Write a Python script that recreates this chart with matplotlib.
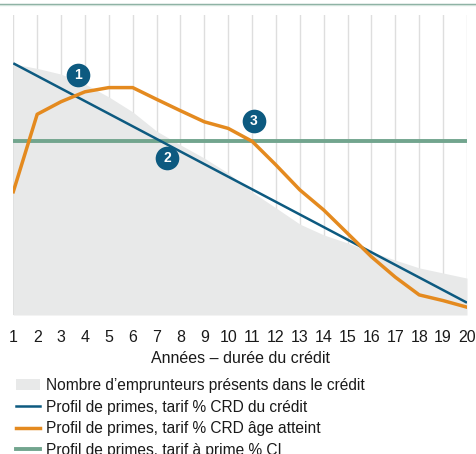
import matplotlib
matplotlib.use("Agg")
import matplotlib.pyplot as plt
from matplotlib.lines import Line2D
from matplotlib.patches import Patch

plt.rcParams['font.family'] = ['Liberation Sans', 'DejaVu Sans']

# durée du crédit (années)
annees = list(range(1, 21))

# nombre d'emprunteurs encore présents (échelle relative)
emprunteurs = [83.7, 82.2, 80.3, 77.0, 72.7, 67.7, 61.3, 56.7, 52.3, 47.3,
               41.0, 35.7, 30.3, 26.7, 24.0, 21.0, 18.3, 15.7, 14.0, 12.3]

# profil tarif % CRD du crédit : droite entre première et dernière année
crd_x = [1, 20]
crd_y = [83.9, 4.1]

# profil tarif % CRD âge atteint
crd_age = [41.1, 66.9, 71.1, 74.4, 75.8, 75.8, 71.9, 68.1, 64.4, 62.2,
           57.9, 50.0, 41.7, 35.0, 27.2, 19.4, 12.6, 6.7, 4.8, 2.6]

# profil tarif à prime % CI (constant)
prime_ci = 57.9

# repères numérotés
reperes_x = [3.71, 7.44, 11.08]
reperes_y = [80.0, 52.3, 64.7]
reperes_txt = ['1', '2', '3']

bleu = '#0d5a80'
orange = '#e48a1f'
vert = '#72a58e'
gris = '#e8e9e9'
texte = '#1a1a1a'

fig = plt.figure(figsize=(4.76, 4.54), dpi=100)
ax = fig.add_axes([13.3 / 476, 139 / 454, 453.7 / 476, 300 / 454])

for x in annees:
    ax.axvline(x, color='#dedede', lw=1.0, zorder=0)

ax.fill_between(annees, 0, emprunteurs, color=gris, lw=0, zorder=1)
ax.plot(crd_x, crd_y, color=bleu, lw=1.8, zorder=3, solid_capstyle='butt')
ax.plot(annees, crd_age, color=orange, lw=2.5, zorder=3, solid_joinstyle='round')
ax.plot([1, 20], [prime_ci, prime_ci], color=vert, lw=2.8, zorder=2, solid_capstyle='butt')

ax.scatter(reperes_x, reperes_y, s=290, color=bleu, zorder=5, linewidths=0)
for x, y, t in zip(reperes_x, reperes_y, reperes_txt):
    ax.text(x, y, t, color='white', fontsize=10, fontweight='bold',
            ha='center', va='center', zorder=6)

ax.set_xlim(1, 20)
ax.set_ylim(0, 100)
ax.set_xticks(annees)
ax.set_yticks([])
ax.tick_params(axis='x', length=0, pad=11, labelsize=11.5, labelcolor=texte)
for s in ax.spines.values():
    s.set_visible(False)
ax.set_xlabel('Années – durée du crédit', fontsize=11.5, color=texte, labelpad=4)

# filet en haut de la figure
fig.add_artist(Line2D([0, 1], [1 - 3.5 / 454] * 2, transform=fig.transFigure,
                      color='#7fa898', lw=1.0))
fig.add_artist(Line2D([0, 1], [1 - 5 / 454] * 2, transform=fig.transFigure,
                      color='#d3e3dc', lw=1.0))

poignees = [
    Patch(facecolor=gris, edgecolor='none'),
    Line2D([], [], color=bleu, lw=1.8),
    Line2D([], [], color=orange, lw=2.5),
    Line2D([], [], color=vert, lw=2.8),
]
libelles = [
    'Nombre d’emprunteurs présents dans le crédit',
    'Profil de primes, tarif % CRD du crédit',
    'Profil de primes, tarif % CRD âge atteint',
    'Profil de primes, tarif à prime % CI',
]
fig.legend(poignees, libelles, loc='upper left', bbox_to_anchor=(16 / 476, 1 - 378 / 454),
           frameon=False, fontsize=11.2, handlelength=1.55, handleheight=0.75,
           handletextpad=0.4, labelspacing=0.42, borderpad=0, borderaxespad=0,
           labelcolor=texte)

fig.savefig('out.png', dpi=100)
